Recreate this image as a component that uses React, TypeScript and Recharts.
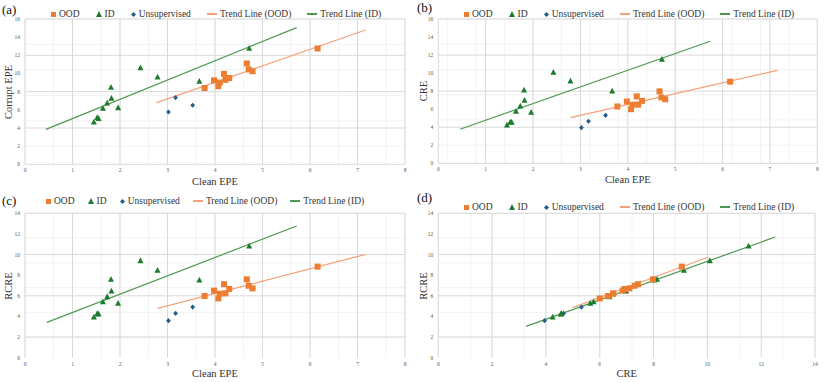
import { ScatterChart, Scatter, XAxis, YAxis, CartesianGrid } from 'recharts';

// model results, same order in every panel
const oodCleanEpe = [3.78, 3.98, 4.07, 4.1, 4.19, 4.22, 4.3, 4.67, 4.71, 4.79, 6.16];
const oodCorruptEpe = [8.4, 9.25, 8.6, 9.0, 9.95, 9.3, 9.5, 11.1, 10.45, 10.25, 12.75];
const oodCre = [6.3, 6.85, 6.0, 6.5, 7.42, 6.5, 6.92, 7.98, 7.3, 7.1, 9.05];
const oodRcre = [5.98, 6.5, 5.75, 6.2, 7.12, 6.24, 6.66, 7.6, 6.98, 6.72, 8.83];

const idCleanEpe = [1.45, 1.52, 1.55, 1.64, 1.73, 1.81, 1.82, 1.96, 2.43, 2.79, 3.67, 4.72];
const idCorruptEpe = [4.66, 5.15, 5.05, 6.17, 6.75, 8.48, 7.27, 6.24, 10.64, 9.61, 9.14, 12.77];
const idCre = [4.25, 4.58, 4.55, 5.77, 6.36, 8.13, 6.98, 5.65, 10.09, 9.13, 8.02, 11.53];
const idRcre = [3.94, 4.27, 4.24, 5.43, 5.92, 7.6, 6.47, 5.27, 9.41, 8.47, 7.53, 10.83];

const unsupCleanEpe = [3.02, 3.17, 3.53];
const unsupCorruptEpe = [5.76, 7.34, 6.5];
const unsupCre = [3.95, 4.66, 5.32];
const unsupRcre = [3.59, 4.3, 4.91];

// trend line end points [start, end]
const trendOodA = [[2.77, 6.79], [7.17, 14.79]];
const trendIdA = [[0.44, 3.85], [5.72, 15.05]];
const trendOodB = [[2.79, 5.06], [7.16, 10.31]];
const trendIdB = [[0.46, 3.77], [5.74, 13.53]];
const trendOodC = [[2.79, 4.78], [7.17, 10.02]];
const trendIdC = [[0.46, 3.43], [5.72, 12.77]];
const trendOodD = [[5.0, 4.85], [10.04, 9.76]];
const trendIdD = [[3.26, 3.04], [12.52, 11.7]];

const legendLabels = ['OOD', 'ID', 'Unsupervised', 'Trend Line (OOD)', 'Trend Line (ID)'];

const ORANGE = '#ED7D31';
const GREEN = '#1E7B2E';
const BLUE = '#235F8C';
const TREND_OOD = '#F4A27A';
const TREND_ID = '#4E9A55';
const FONT = '"Liberation Serif", "Times New Roman", serif';

const zip = (xs: number[], ys: number[]) => xs.map((x, i) => ({ x, y: ys[i] }));
const pts = (p: number[][]) => p.map(([x, y]) => ({ x, y }));
const steps = (max: number, step: number) => {
  const out: number[] = [];
  for (let v = 0; v <= max + 1e-9; v += step) out.push(Math.round(v * 100) / 100);
  return out;
};

const Square = (p: any) => <rect x={p.cx - 3} y={p.cy - 3} width={6} height={6} fill={ORANGE} />;
const Tri = (p: any) => (
  <path d={`M${p.cx},${p.cy - 3.3} L${p.cx + 3},${p.cy + 2.5} L${p.cx - 3},${p.cy + 2.5} Z`} fill={GREEN} />
);
const Diamond = (p: any) => (
  <path d={`M${p.cx},${p.cy - 2.6} L${p.cx + 2.4},${p.cy} L${p.cx},${p.cy + 2.6} L${p.cx - 2.4},${p.cy} Z`} fill={BLUE} />
);
const NoDot = () => <g />;

const legendIcons = [
  <span style={{ display: 'inline-block', width: 5, height: 5, background: ORANGE }} />,
  <svg width={6} height={6}><path d="M3,0 L6,6 L0,6 Z" fill={GREEN} /></svg>,
  <svg width={5} height={5}><path d="M2.5,0 L5,2.5 L2.5,5 L0,2.5 Z" fill={BLUE} /></svg>,
  <span style={{ display: 'inline-block', width: 10, height: 1.5, background: TREND_OOD }} />,
  <span style={{ display: 'inline-block', width: 10, height: 1.5, background: TREND_ID }} />,
];

type PanelProps = {
  tag: string;
  left: number;
  top: number;
  height: number;
  plotTop: number;
  plotBottom: number;
  plotLeft: number;
  plotRight: number;
  xMax: number;
  xStep: number;
  xMinor: number;
  yMax: number;
  xTitle: string;
  yTitle: string;
  ood: { x: number; y: number }[];
  id: { x: number; y: number }[];
  unsup: { x: number; y: number }[];
  trendOod: number[][];
  trendId: number[][];
  tagY: number;
  legendX: number;
  legendY: number;
  legendGap: number;
  xTitleY: number;
};

function Panel(p: PanelProps) {
  const width = 415;
  const xTicks = steps(p.xMax, p.xStep);
  const yTicks = steps(p.yMax, 2);
  return (
    <div style={{ position: 'absolute', left: p.left, top: p.top, width, height: p.height, fontFamily: FONT }}>
      <ScatterChart
        width={width}
        height={p.height}
        margin={{ top: p.plotTop, right: width - p.plotRight, bottom: 0, left: 0 }}
      >
        <CartesianGrid
          stroke="#f0f0f0"
          strokeWidth={0.8}
          verticalValues={steps(p.xMax, p.xMinor)}
          horizontalValues={steps(p.yMax, 0.4)}
        />
        <CartesianGrid stroke="#d9d9d9" strokeWidth={1} verticalValues={xTicks} horizontalValues={yTicks} />
        <XAxis
          type="number"
          dataKey="x"
          domain={[0, p.xMax]}
          ticks={xTicks}
          allowDataOverflow
          height={p.height - p.plotBottom}
          axisLine={false}
          tickLine={false}
          tickSize={0}
          tickMargin={4}
          tick={{ fontSize: 5.5, fill: '#595959', fontFamily: FONT }}
        />
        <YAxis
          type="number"
          dataKey="y"
          domain={[0, p.yMax]}
          ticks={yTicks}
          allowDataOverflow
          width={p.plotLeft}
          axisLine={false}
          tickLine={false}
          tickSize={0}
          tickMargin={5}
          tick={{ fontSize: 5.5, fill: '#595959', fontFamily: FONT }}
        />
        <Scatter data={pts(p.trendId)} line={{ stroke: TREND_ID, strokeWidth: 1.2 }} shape={NoDot} isAnimationActive={false} />
        <Scatter data={pts(p.trendOod)} line={{ stroke: TREND_OOD, strokeWidth: 1.2 }} shape={NoDot} isAnimationActive={false} />
        <Scatter data={p.unsup} shape={Diamond} isAnimationActive={false} />
        <Scatter data={p.id} shape={Tri} isAnimationActive={false} />
        <Scatter data={p.ood} shape={Square} isAnimationActive={false} />
      </ScatterChart>
      <div style={{ position: 'absolute', left: 2, top: p.tagY - 8, fontSize: 13, lineHeight: '16px', color: '#111' }}>
        {p.tag}
      </div>
      <div
        style={{
          position: 'absolute',
          left: p.legendX,
          top: p.legendY - 6,
          height: 12,
          display: 'flex',
          alignItems: 'center',
          gap: p.legendGap,
          fontSize: 9.5,
          color: '#333',
          whiteSpace: 'nowrap',
        }}
      >
        {legendLabels.map((label, i) => (
          <div key={label} style={{ display: 'flex', alignItems: 'center', gap: 3 }}>
            {legendIcons[i]}
            <span>{label}</span>
          </div>
        ))}
      </div>
      <div
        style={{
          position: 'absolute',
          left: p.plotLeft,
          width: p.plotRight - p.plotLeft,
          top: p.xTitleY - 7,
          textAlign: 'center',
          fontSize: 10.5,
          lineHeight: '14px',
          color: '#333',
        }}
      >
        {p.xTitle}
      </div>
      <div
        style={{
          position: 'absolute',
          left: 9 - 60,
          top: (p.plotTop + p.plotBottom) / 2 - 7,
          width: 120,
          textAlign: 'center',
          fontSize: 10.5,
          lineHeight: '14px',
          color: '#333',
          transform: 'rotate(-90deg)',
        }}
      >
        {p.yTitle}
      </div>
    </div>
  );
}

export default function App() {
  return (
    <div style={{ position: 'absolute', left: 0, top: 0, width: 830, height: 383, background: '#fff' }}>
      <Panel
        tag="(a)" left={0} top={0} height={190}
        plotTop={19} plotBottom={164.3} plotLeft={25} plotRight={405}
        xMax={8} xStep={1} xMinor={0.2} yMax={16}
        xTitle="Clean EPE" yTitle="Corrupt EPE"
        ood={zip(oodCleanEpe, oodCorruptEpe)} id={zip(idCleanEpe, idCorruptEpe)} unsup={zip(unsupCleanEpe, unsupCorruptEpe)}
        trendOod={trendOodA} trendId={trendIdA}
        tagY={10} legendX={51} legendY={14} legendGap={16} xTitleY={182}
      />
      <Panel
        tag="(b)" left={415} top={0} height={190}
        plotTop={19} plotBottom={163.3} plotLeft={23.3} plotRight={402.3}
        xMax={8} xStep={1} xMinor={0.2} yMax={16}
        xTitle="Clean EPE" yTitle="CRE"
        ood={zip(oodCleanEpe, oodCre)} id={zip(idCleanEpe, idCre)} unsup={zip(unsupCleanEpe, unsupCre)}
        trendOod={trendOodB} trendId={trendIdB}
        tagY={8} legendX={49} legendY={14} legendGap={16} xTitleY={180}
      />
      <Panel
        tag="(c)" left={0} top={190} height={193}
        plotTop={23.3} plotBottom={167.7} plotLeft={25} plotRight={405}
        xMax={8} xStep={1} xMinor={0.2} yMax={14}
        xTitle="Clean EPE" yTitle="RCRE"
        ood={zip(oodCleanEpe, oodRcre)} id={zip(idCleanEpe, idRcre)} unsup={zip(unsupCleanEpe, unsupRcre)}
        trendOod={trendOodC} trendId={trendIdC}
        tagY={11} legendX={46} legendY={11} legendGap={13} xTitleY={184}
      />
      <Panel
        tag="(d)" left={415} top={190} height={193}
        plotTop={23.3} plotBottom={167.7} plotLeft={23.3} plotRight={400}
        xMax={14} xStep={2} xMinor={0.4} yMax={14}
        xTitle="CRE" yTitle="RCRE"
        ood={zip(oodCre, oodRcre)} id={zip(idCre, idRcre)} unsup={zip(unsupCre, unsupRcre)}
        trendOod={trendOodD} trendId={trendIdD}
        tagY={8} legendX={49} legendY={17} legendGap={16} xTitleY={184}
      />
    </div>
  );
}
